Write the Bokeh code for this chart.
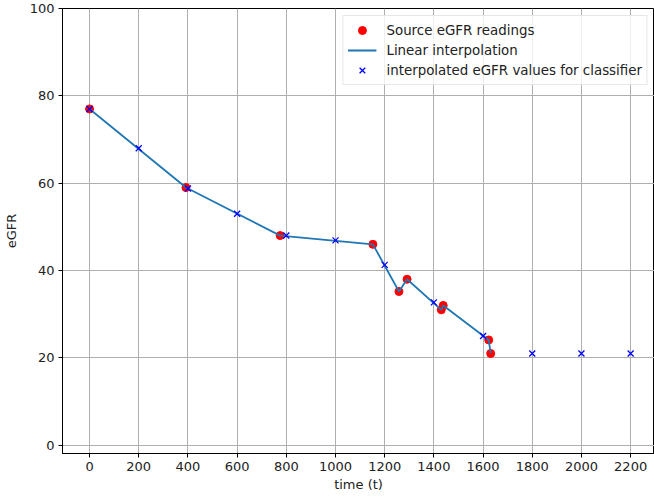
from bokeh.plotting import figure
from bokeh.models import Legend, LegendItem, FixedTicker
from bokeh.embed import file_html
from bokeh.resources import INLINE

# Source eGFR readings
src_t = [0, 392, 775, 1152, 1258, 1291, 1430, 1438, 1623, 1631]
src_egfr = [77, 59, 48, 46, 35.2, 38, 31, 32, 24.1, 21]

# Interpolated values for classifier
interp_t = [0, 200, 400, 600, 800, 1000, 1200, 1400, 1600, 1800, 2000, 2200]
interp_egfr = [77, 68, 58.8, 53, 48, 46.9, 41.3, 32.7, 25, 21, 21, 21]

x_ticks = [0, 200, 400, 600, 800, 1000, 1200, 1400, 1600, 1800, 2000, 2200]
y_ticks = [0, 20, 40, 60, 80, 100]

FONT = "DejaVu Sans"

p = figure(width=654, height=497, output_backend="svg", toolbar_location=None,
           x_range=(-110, 2297), y_range=(-1.9, 100))
p.min_border_left = 62
p.min_border_right = 0
p.min_border_top = 8
p.min_border_bottom = 44
p.background_fill_color = "white"
p.border_fill_color = "white"
p.outline_line_color = "black"
p.outline_line_width = 1

for ax in (p.xaxis[0], p.yaxis[0]):
    ax.axis_line_color = "black"
    ax.major_tick_line_color = "black"
    ax.major_tick_out = 4
    ax.major_tick_in = 0
    ax.minor_tick_line_color = None
    ax.major_label_text_font = FONT
    ax.major_label_text_font_size = "13px"
    ax.major_label_text_color = "#222222"
    ax.axis_label_text_font = FONT
    ax.axis_label_text_font_size = "13px"
    ax.axis_label_text_font_style = "normal"
    ax.axis_label_text_color = "#222222"

p.xaxis.ticker = FixedTicker(ticks=x_ticks)
p.yaxis.ticker = FixedTicker(ticks=y_ticks)
p.xaxis.axis_label = "time (t)"
p.yaxis.axis_label = "eGFR"
p.xaxis.axis_label_standoff = 3
p.yaxis.axis_label_standoff = 8
p.xaxis.major_label_standoff = 4
p.yaxis.major_label_standoff = 4

p.xgrid.ticker = FixedTicker(ticks=x_ticks)
p.ygrid.ticker = FixedTicker(ticks=y_ticks)
for g in (p.xgrid[0], p.ygrid[0]):
    g.grid_line_color = "#b0b0b0"
    g.grid_line_width = 1

r_src = p.scatter(src_t, src_egfr, marker="circle", size=8, fill_color="red",
                  line_color="red")
r_line = p.line(src_t, src_egfr, line_color="#1f77b4", line_width=1.8)
r_int = p.scatter(interp_t, interp_egfr, marker="x", size=8.5, line_color="blue",
                  line_width=1.3)

legend = Legend(items=[
    LegendItem(label="Source eGFR readings", renderers=[r_src]),
    LegendItem(label="Linear interpolation", renderers=[r_line]),
    LegendItem(label="interpolated eGFR values for classifier", renderers=[r_int]),
], location="top_right")
legend.label_text_font = FONT
legend.label_text_font_size = "13.4px"
legend.label_text_color = "#222222"
legend.border_line_color = "#d0d0d0"
legend.border_line_width = 1
legend.background_fill_alpha = 0.8
legend.margin = 7
legend.padding = 4
legend.spacing = 0
legend.glyph_width = 29
legend.glyph_height = 20
legend.label_standoff = 10
legend.label_height = 20
p.add_layout(legend)

open("out.html", "w").write(file_html(p, INLINE))
